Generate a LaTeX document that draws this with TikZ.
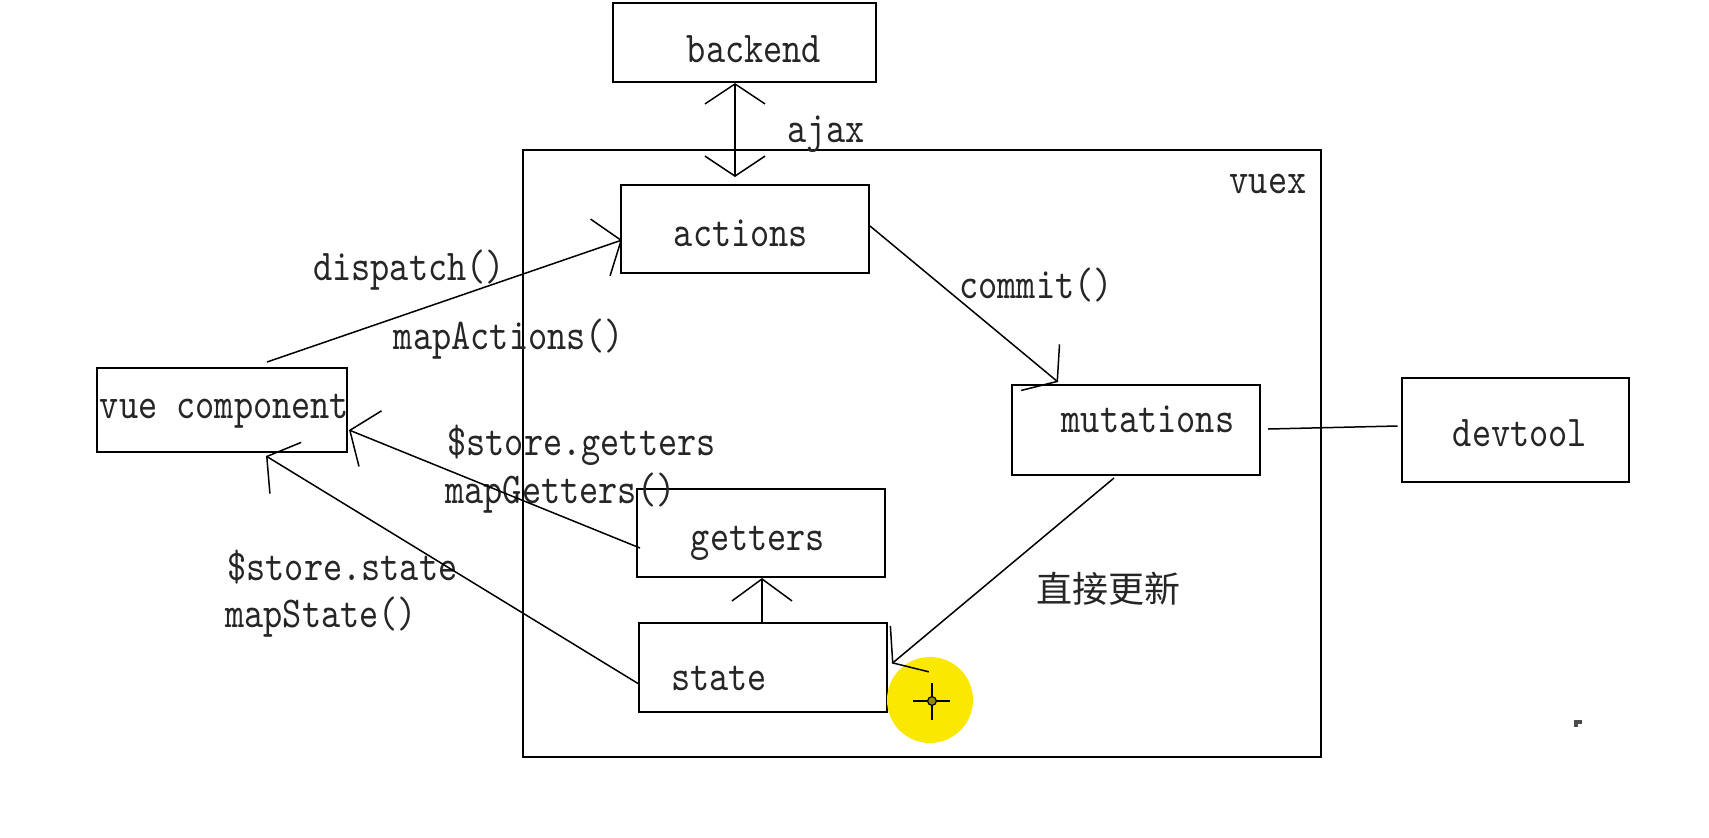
\documentclass[tikz,border=0pt]{standalone}
\usepackage{fontspec}
\usetikzlibrary{arrows.meta,calc}
\newfontfamily\monofont[FakeStretch=0.83]{lmmono10-regular.otf}
\newfontfamily\cjkfont{Noto Sans CJK SC}
\definecolor{cursorcol}{RGB}{250,232,0}
\tikzset{
  box/.style={draw=black, line width=1pt, inner sep=0pt},
  lbl/.style={font=\monofont\fontsize{22}{26}\selectfont, inner sep=0pt, text=black!85},
  cjk/.style={font=\cjkfont\fontsize{18}{22}\selectfont, inner sep=0pt, text=black!85},
  conn/.style={line width=0.75pt},
  harrow/.style={-{Straight Barb[length=11pt,width=30pt]}},
  darrow/.style={{Straight Barb[length=10pt,width=30pt]}-{Straight Barb[length=10pt,width=30pt]}},
}
\begin{document}
\begin{tikzpicture}[x=0.5pt,y=-0.5pt]
\useasboundingbox (0,0) rectangle (1709,837);
\fill[white] (0,0) rectangle (1709,837);

% boxes
\node[box, minimum width=399pt, minimum height=303.5pt] (vuex) at (922,453.5) {};
\node[box, minimum width=131.5pt, minimum height=39.5pt] (backend) at (744.5,42.5) {};
\node[box, minimum width=124pt, minimum height=44pt] (actions) at (745,229) {};
\node[box, minimum width=124pt, minimum height=45pt] (mutations) at (1136,430) {};
\node[box, minimum width=113.75pt, minimum height=52pt] (devtool) at (1515.25,430) {};
\node[box, minimum width=125pt, minimum height=42pt] (vuecomp) at (222,410) {};
\node[box, minimum width=124pt, minimum height=44pt] (getters) at (761,533) {};
\node[box, minimum width=124pt, minimum height=44.5pt] (state) at (763,667.5) {};

% cursor highlight
\fill[cursorcol] (930,700) circle (21.5pt);
\draw[line width=1.1pt] (913,701) -- (950,701) (932,683) -- (932,720);
\draw[line width=0.6pt, fill=cursorcol!60!black] (932,701) circle (2.2pt);

% labels
\node[lbl, anchor=base] (t-backend) at (754,62) {backend};
\node[lbl, anchor=base] (t-ajax) at (826,142) {ajax};
\node[lbl, anchor=base] (t-vuex) at (1268,193) {vuex};
\node[lbl, anchor=base] (t-actions) at (741,246) {actions};
\node[lbl, anchor=base] (t-dispatch) at (409,280) {dispatch()};
\node[lbl, anchor=base] (t-mapactions) at (509,349) {mapActions()};
\node[lbl, anchor=base] (t-commit) at (1036,298) {commit()};
\node[lbl, anchor=base] (t-vuecomp) at (224.5,418) {vue component};
\node[lbl, anchor=base] (t-mutations) at (1148,432) {mutations};
\node[lbl, anchor=base] (t-devtool) at (1520,446) {devtool};
\node[lbl, anchor=base west] (t-sg) at (447,455) {\$store.getters};
\node[lbl, anchor=base west] (t-mg) at (445,503) {mapGetters()};
\node[lbl, anchor=base] (t-getters) at (758,550) {getters};
\node[lbl, anchor=base west] (t-ss) at (227,580) {\$store.state};
\node[lbl, anchor=base west] (t-ms) at (225,627) {mapState()};
\node[lbl, anchor=base] (t-state) at (719,690) {state};
\node[cjk] (t-update) at (1108,589) {直接更新};

% connectors
\draw[conn, darrow] ($(backend.south)+(-9.5,0)$) -- ($(actions.north)+(-10,-7)$);
\draw[conn, harrow] ($(vuecomp.north)+(45,-5)$) -- ($(actions.west)+(2,11)$);
\draw[conn, harrow] ($(actions.east)+(0,-3)$) -- ($(mutations.north)+(-78,-2)$);
\draw[conn, harrow] ($(mutations.south)+(-22,2)$) -- ($(state.east)+(4,-4)$);
\draw[conn, harrow] ($(state.north)+(-1,0)$) -- ($(getters.south)+(1,0)$);
\draw[conn, harrow] ($(getters.west)+(4,15)$) -- ($(vuecomp.east)+(1,20)$);
\draw[conn, harrow] ($(state.west)+(0,16)$) -- ($(vuecomp.south)+(44,3)$);
\draw[conn] ($(mutations.east)+(7,-1)$) -- ($(devtool.west)+(-3,-4)$);

% small stray mark
\fill[black!70] (1574,720) rectangle (1582,724);
\fill[black!70] (1574,720) rectangle (1578,727);
\end{tikzpicture}
\end{document}
